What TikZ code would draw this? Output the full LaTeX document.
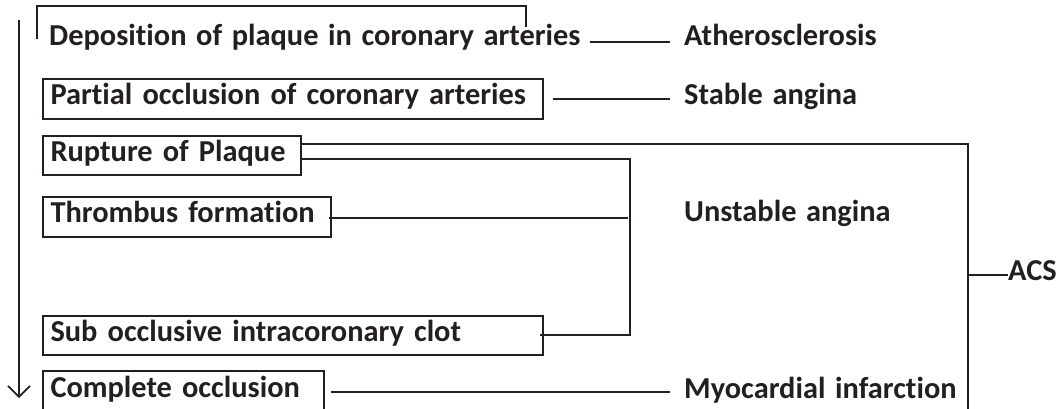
\documentclass[tikz,border=0pt]{standalone}
\usepackage{fontspec}
\setmainfont{Carlito}[WordSpace=1.4, Ligatures=NoCommon, RawFeature=-liga]
\usetikzlibrary{arrows.meta,calc}
\definecolor{ink}{RGB}{35,31,32}
\tikzset{
  lbl/.style={inner sep=0pt, anchor=base west, text=ink, font=\fontsize{30.4}{36}\selectfont\bfseries},
  stepbox/.style={draw=ink, line width=2pt, anchor=north west, inner xsep=7.5pt, inner ysep=0pt,
    align=left, text height=17pt, text depth=6pt, text=ink, font=\fontsize{30.4}{36}\selectfont\bfseries},
  conn/.style={draw=ink, line width=2pt},
}
\begin{document}
\begin{tikzpicture}[x=1pt,y=-1pt]
\useasboundingbox (0,0) rectangle (1060,408);
% left-column stages
\node[lbl] (dep) at (49,45) {Deposition of plaque in coronary arteries};
\node[stepbox, text width=485pt, minimum height=40pt] (part) at (42,78) {Partial occlusion of coronary arteries};
\node[stepbox, text width=243pt, minimum height=39pt] (rup) at (42,135) {Rupture of Plaque};
\node[stepbox, text width=273pt, minimum height=40pt] (thr) at (42,196) {Thrombus formation};
\node[stepbox, text width=485pt, minimum height=39pt] (sub) at (42,315) {Sub occlusive intracoronary clot};
\node[stepbox, text width=266pt, minimum height=42pt] (comp) at (42,370) {Complete occlusion};
% right-column labels
\node[lbl] (ath) at (684,45) {Atherosclerosis};
\node[lbl] (stab) at (684,104) {Stable angina};
\node[lbl] (unst) at (684,221) {Unstable angina};
\node[lbl] (mi) at (684,398) {Myocardial infarction};
\node[lbl] (acs) at (1008,280) {ACS};
% coordinates
\coordinate (arrTop) at (19,20);
\coordinate (arrBot) at (19,398);
\coordinate (uaX) at (628,0);
\coordinate (acsX) at (968,0);
\coordinate (acsJoin) at (968,275);
% time arrow
\draw[conn, line width=1.8pt, -{Straight Barb[length=11pt,width=22pt,line width=1.6pt]}] (arrTop) -- (arrBot);
% bracket over deposition
\draw[conn] ($(dep.base west)+(-12,-6)$) |- (37,6) -| ($(dep.base west)+(477,-18)$);
% atherosclerosis
\draw[conn] ($(dep.base east)+(9,-3)$) -- ($(ath.base west)+(-14,-3)$);
% stable angina
\draw[conn] ($(part.east)+(9,0)$) -- ($(part.east -| ath.west)+(-14,0)$);
% ACS bracket
\draw[conn] ($(rup.north east)+(0,9)$) -| ($(acsX)+(0,412)$);
\draw[conn] (acsJoin) -- (acsJoin -| acs.west);
% unstable angina bracket
\draw[conn] ($(rup.north east)+(0,24)$) -| ($(sub.north east)+(86,20)$) -- ($(sub.north east)+(-4,20)$);
\draw[conn] ($(thr.east)+(-3,1)$) -- ($(thr.east -| uaX)+(0,1)$);
% myocardial infarction
\draw[conn] ($(comp.east)+(6,0)$) -- ($(comp.east -| ath.west)+(-14,0)$);
\end{tikzpicture}
\end{document}
